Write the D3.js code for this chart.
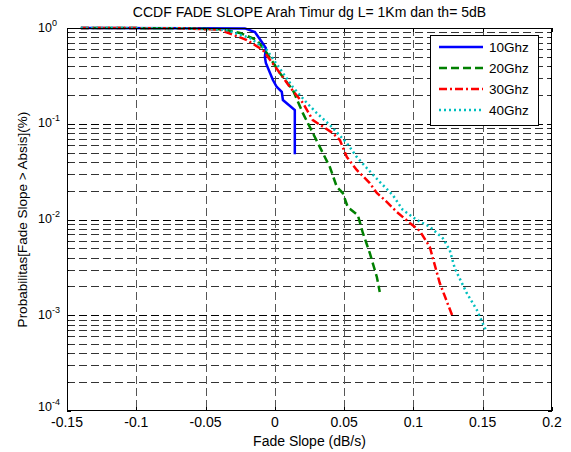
<!DOCTYPE html>
<html>
<head>
<meta charset="utf-8">
<script src="https://cdn.jsdelivr.net/npm/d3@7"></script>
<style>
  body{margin:0;background:#fff;}
  svg{display:block;font-family:"Liberation Sans",Arial,sans-serif;}
</style>
</head>
<body>
<svg id="chart" width="571" height="452"></svg>
<script>
// data: [fade slope (dB/s), probability]
const s10 = [[-0.14,1],[-0.06,0.995],[-0.0216,0.99],[-0.0144,0.908],[-0.0094,0.714],[-0.0065,0.618],[-0.0072,0.498],
  [-0.0065,0.431],[-0.0014,0.286],[0.0014,0.242],[0.005,0.215],[0.0058,0.177],[0.0144,0.139],[0.0144,0.048]];
const s20 = [[-0.14,1],[-0.07,0.995],[-0.0375,0.97],[-0.0252,0.887],[-0.013,0.749],[-0.0058,0.548],[0.0036,0.339],
  [0.013,0.225],[0.0202,0.129],[0.0274,0.08],[0.0325,0.057],[0.0397,0.0353],[0.0447,0.0219],[0.049,0.0189],
  [0.0526,0.0135],[0.0599,0.0111],[0.0635,0.00723],[0.0685,0.00447],[0.0736,0.00251],[0.0757,0.00175]];
const s30 = [[-0.14,1],[-0.07,0.995],[-0.0397,0.96],[-0.0202,0.749],[-0.0087,0.589],[0.0036,0.339],[0.0108,0.242],
  [0.0202,0.165],[0.0274,0.109],[0.0418,0.08],[0.0469,0.0676],[0.0519,0.045],[0.0591,0.0329],[0.0685,0.024],
  [0.0736,0.0189],[0.0793,0.016],[0.088,0.012],[0.0974,0.0092],[0.1046,0.0076],[0.1118,0.00516],[0.119,0.00217],
  [0.1284,0.00096]];
const s40 = [[-0.14,1],[-0.07,0.995],[-0.036,0.96],[-0.018,0.786],[-0.0058,0.589],[0.0058,0.339],[0.013,0.242],
  [0.0231,0.165],[0.0303,0.129],[0.0397,0.097],[0.0519,0.063],[0.0591,0.045],[0.0663,0.0345],[0.0757,0.0247],
  [0.0851,0.018],[0.0923,0.0126],[0.1024,0.0099],[0.1118,0.0084],[0.1211,0.0064],[0.1262,0.0048],[0.1298,0.0031],
  [0.1385,0.0017],[0.1457,0.00114],[0.1522,0.0007]];
const seriesNames = ["10Ghz","20Ghz","30Ghz","40Ghz"];
const xTicks = [-0.15,-0.1,-0.05,0,0.05,0.1,0.15,0.2];
const xTickLabels = ["-0.15","-0.1","-0.05","0","0.05","0.1","0.15","0.2"];
const yExponents = [0,-1,-2,-3,-4];

const series = [
  {name:seriesNames[0], data:s10, color:"#0000ff", dash:null},
  {name:seriesNames[1], data:s20, color:"#008000", dash:"8,4"},
  {name:seriesNames[2], data:s30, color:"#ff0000", dash:"8,3,2,3"},
  {name:seriesNames[3], data:s40, color:"#00bfbf", dash:"2,3"}
];

const svg = d3.select("#chart");
const L=67, R=552, T=28, B=411;
const x = d3.scaleLinear().domain([-0.15,0.2]).range([L,R]);
const y = d3.scaleLog().domain([1e-4,1]).range([B,T]);

// grid
const grid = svg.append("g");
const minors = [];
for (let e=-4; e<0; e++) for (let k=2; k<=9; k++) minors.push(k*Math.pow(10,e));
grid.selectAll("line.minor").data(minors).enter().append("line")
  .attr("x1",L).attr("x2",R).attr("y1",d=>Math.round(y(d))+0.5).attr("y2",d=>Math.round(y(d))+0.5)
  .attr("stroke","#333").attr("stroke-dasharray","8,4");
grid.selectAll("line.major").data(yExponents.slice(1,4)).enter().append("line")
  .attr("x1",L).attr("x2",R).attr("y1",d=>Math.round(y(Math.pow(10,d)))+0.5).attr("y2",d=>Math.round(y(Math.pow(10,d)))+0.5)
  .attr("stroke","#000").attr("stroke-dasharray","8,4");
grid.selectAll("line.vx").data(xTicks.slice(1,-1)).enter().append("line")
  .attr("x1",d=>Math.round(x(d))+0.5).attr("x2",d=>Math.round(x(d))+0.5).attr("y1",T).attr("y2",B)
  .attr("stroke","#555").attr("stroke-dasharray","8,4");

// curves
const line = d3.line().x(d=>x(d[0])).y(d=>y(d[1]));
svg.append("g").selectAll("path").data(series).enter().append("path")
  .attr("d",d=>line(d.data)).attr("fill","none").attr("stroke",d=>d.color)
  .attr("stroke-width",2.5).attr("stroke-dasharray",d=>d.dash);

// box + ticks
svg.append("rect").attr("x",L+0.5).attr("y",T+0.5).attr("width",R-L-1).attr("height",B-T-1)
  .attr("fill","none").attr("stroke","#000");
const tk = svg.append("g").attr("stroke","#000");
xTicks.forEach(v=>{
  const px=Math.round(x(v))+0.5;
  tk.append("line").attr("x1",px).attr("x2",px).attr("y1",B).attr("y2",B-4);
  tk.append("line").attr("x1",px).attr("x2",px).attr("y1",T).attr("y2",T+4);
});
yExponents.forEach(e=>{
  const py=Math.round(y(Math.pow(10,e)))+0.5;
  tk.append("line").attr("x1",L).attr("x2",L+4).attr("y1",py).attr("y2",py);
  tk.append("line").attr("x1",R).attr("x2",R-4).attr("y1",py).attr("y2",py);
});
minors.forEach(v=>{
  const py=Math.round(y(v))+0.5;
  tk.append("line").attr("x1",L).attr("x2",L+2).attr("y1",py).attr("y2",py);
  tk.append("line").attr("x1",R).attr("x2",R-2).attr("y1",py).attr("y2",py);
});

// tick labels
svg.append("g").selectAll("text").data(xTicks).enter().append("text")
  .attr("x",d=>x(d)).attr("y",B+16).attr("text-anchor","middle").attr("font-size",14)
  .text((d,i)=>xTickLabels[i]);
const yl = svg.append("g").selectAll("text").data(yExponents).enter().append("text")
  .attr("x",L-29).attr("y",d=>y(Math.pow(10,d))+ (d===-4? 0 : 3.5)).attr("font-size",12.5);
yl.append("tspan").text("10");
yl.append("tspan").attr("dy",-6).attr("font-size",9).text(d=>d);

// titles
svg.append("text").attr("x",(L+R)/2).attr("y",17).attr("text-anchor","middle").attr("font-size",14)
  .text("CCDF FADE SLOPE Arah Timur dg L= 1Km dan th= 5dB");
svg.append("text").attr("x",(L+R)/2).attr("y",446).attr("text-anchor","middle").attr("font-size",14)
  .text("Fade Slope (dB/s)");
svg.append("text").attr("transform",`translate(27,${(T+B)/2}) rotate(-90)`).attr("text-anchor","middle")
  .attr("font-size",13.5).text("Probabilitas[Fade Slope > Absis](%)");

// legend
const lg = svg.append("g").attr("transform","translate(430,35)");
lg.append("rect").attr("x",0.5).attr("y",0.5).attr("width",108).attr("height",90)
  .attr("fill","#fff").attr("stroke","#000");
series.forEach((s,i)=>{
  const ly=12+i*21;
  lg.append("line").attr("x1",9).attr("x2",53).attr("y1",ly).attr("y2",ly)
    .attr("stroke",s.color).attr("stroke-width",2.5).attr("stroke-dasharray",s.dash);
  lg.append("text").attr("x",59).attr("y",ly+5).attr("font-size",13.5).text(s.name);
});
</script>
</body>
</html>
